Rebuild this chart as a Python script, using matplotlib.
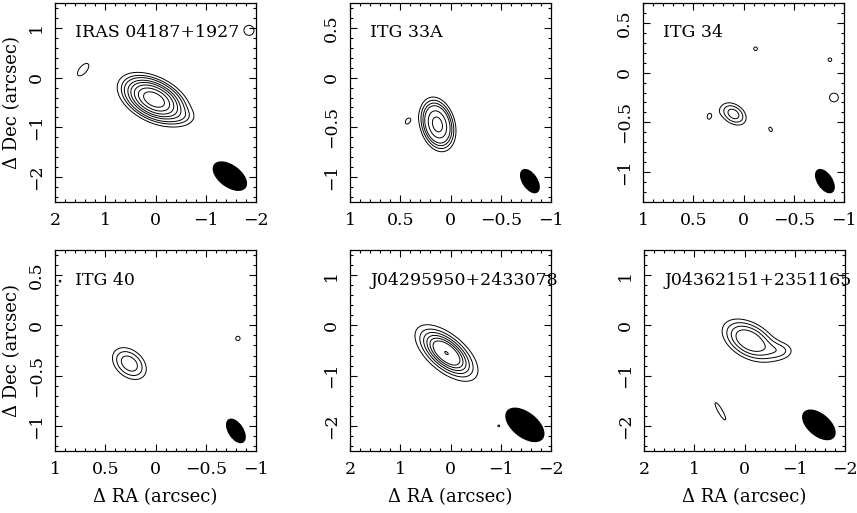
import numpy as np
import matplotlib
matplotlib.use('Agg')
import matplotlib.pyplot as plt
from matplotlib.patches import Ellipse
from matplotlib.ticker import MultipleLocator, FuncFormatter

plt.rcParams['font.family'] = 'DejaVu Serif'

# source names and map extents (arcsec)
names = ['IRAS 04187+1927', 'ITG 33A', 'ITG 34',
         'ITG 40', 'J04295950+2433078', 'J04362151+2351165']
half_width = [2, 1, 1, 1, 2, 2]
ylims = [(-2.5, 1.5), (-1.25, 0.75), (-1.3, 0.7),
         (-1.25, 0.75), (-2.5, 1.5), (-2.5, 1.5)]

# contour levels (in units of rms)
levels = [[3, 5, 7, 10, 13, 17, 22, 28],
          [3, 4, 5, 6, 8, 10],
          [3, 4, 5],
          [3, 4, 5],
          [3, 5, 7, 9, 11, 13, 17.9],
          [3, 4, 5, 6]]

# gaussian emission components per map: x, y, peak, sigma_maj, sigma_min, angle
comp_x = [[0.03, 1.44, -1.86, -0.58],
          [0.13, 0.43, -0.30],
          [0.10, 0.35, -0.12, -0.86, -0.27, -0.90],
          [0.26, -0.82, 0.95],
          [0.08, -0.96],
          [-0.10, -0.80, 0.48]]
comp_y = [[-0.44, 0.16, 0.95, -0.80],
          [-0.47, -0.44, 0.78],
          [-0.415, -0.45, 0.24, 0.13, -0.57, -0.25],
          [-0.38, -0.13, 0.44],
          [-0.55, -2.00],
          [-0.30, -0.50, -1.71]]
comp_peak = [[34, 3.6, 3.4, 2.0],
             [11, 3.05, 3.5],
             [5.6, 2.85, 3.2, 3.2, 3.2, 3.3],
             [5.8, 3.2, 3.05],
             [18, 3.05],
             [7.5, 2.5, 3.3]]
comp_smaj = [[0.36, 0.25, 0.20, 0.18],
             [0.174, 0.06, 0.05],
             [0.125, 0.09, 0.05, 0.05, 0.06, 0.10],
             [0.165, 0.06, 0.05],
             [0.40, 0.10],
             [0.44, 0.22, 0.45]]
comp_smin = [[0.205, 0.12, 0.20, 0.12],
             [0.109, 0.04, 0.05],
             [0.085, 0.06, 0.05, 0.05, 0.04, 0.10],
             [0.115, 0.06, 0.05],
             [0.195, 0.10],
             [0.26, 0.15, 0.10]]
comp_pa = [[28, -50, 0, 0],
           [75, -60, 0],
           [35, 90, 0, 0, 60, 0],
           [40, 0, 0],
           [40, 0],
           [30, 0, 60]]

# synthesized beams: x, y, major, minor, angle
beam_x = [-1.48, -0.79, -0.81, -0.80, -1.48, -1.48]
beam_y = [-1.98, -1.04, -1.09, -1.05, -1.98, -1.98]
beam_maj = [0.76, 0.26, 0.26, 0.26, 0.88, 0.76]
beam_min = [0.42, 0.14, 0.14, 0.14, 0.48, 0.42]
beam_pa = [37, 57, 57, 57, 38, 40]

lefts = [55, 350, 643, 55, 350, 644]
tops = [3, 3, 3, 250, 250, 250]
heights = [199, 199, 199, 201, 201, 201]


def fmt(v, pos):
    s = '%g' % v
    if s == '-0':
        s = '0'
    return s.replace('-', '\u2212')


fig = plt.figure(figsize=(8.57, 5.13), dpi=100)

for i in range(6):
    ax = fig.add_axes([lefts[i] / 857, 1 - (tops[i] + heights[i]) / 513,
                       201 / 857, heights[i] / 513])
    hw = half_width[i]
    y0, y1 = ylims[i]
    xg = np.linspace(hw, -hw, 501)
    yg = np.linspace(y0, y1, 501)
    X, Y = np.meshgrid(xg, yg)
    Z = np.zeros_like(X)
    for cx, cy, pk, sa, sb, pa in zip(comp_x[i], comp_y[i], comp_peak[i],
                                      comp_smaj[i], comp_smin[i], comp_pa[i]):
        t = np.radians(pa)
        dx = X - cx
        dy = Y - cy
        u = dx * np.cos(t) + dy * np.sin(t)
        v = -dx * np.sin(t) + dy * np.cos(t)
        Z += pk * np.exp(-0.5 * ((u / sa) ** 2 + (v / sb) ** 2))
    ax.contour(X, Y, Z, levels=levels[i], colors='black', linewidths=0.7)

    ax.add_patch(Ellipse((beam_x[i], beam_y[i]), beam_maj[i], beam_min[i],
                         angle=beam_pa[i], facecolor='black', edgecolor='black'))

    ax.set_xlim(hw, -hw)
    ax.set_ylim(y0, y1)
    if hw == 2:
        ax.xaxis.set_major_locator(MultipleLocator(1))
        ax.xaxis.set_minor_locator(MultipleLocator(0.2))
    else:
        ax.xaxis.set_major_locator(MultipleLocator(0.5))
        ax.xaxis.set_minor_locator(MultipleLocator(0.1))
    if y1 - y0 > 3:
        ax.yaxis.set_major_locator(MultipleLocator(1))
        ax.yaxis.set_minor_locator(MultipleLocator(0.2))
    else:
        ax.yaxis.set_major_locator(MultipleLocator(0.5))
        ax.yaxis.set_minor_locator(MultipleLocator(0.1))
    ax.xaxis.set_major_formatter(FuncFormatter(fmt))
    ax.yaxis.set_major_formatter(FuncFormatter(fmt))
    ax.tick_params(which='both', direction='in', top=True, right=True,
                   width=0.8, labelsize=12.5)
    ax.tick_params(which='major', length=5, pad=7)
    ax.tick_params(which='minor', length=2.5)
    ax.tick_params(axis='y', labelrotation=90)
    for lab in ax.get_yticklabels():
        lab.set_va('center')
    for sp in ax.spines.values():
        sp.set_linewidth(0.9)

    ax.text(0.1, 0.85, names[i], transform=ax.transAxes, fontsize=12.5,
            ha='left', va='center')

    if i in (0, 3):
        ax.set_ylabel('\u0394 Dec (arcsec)', fontsize=13, va='center')
        ax.yaxis.set_label_coords(-43 / 201, 0.5)
    if i >= 3:
        ax.set_xlabel('\u0394 RA (arcsec)', fontsize=13, va='center')
        ax.xaxis.set_label_coords(0.5, -46 / 201)

fig.savefig('out.png', dpi=100)
